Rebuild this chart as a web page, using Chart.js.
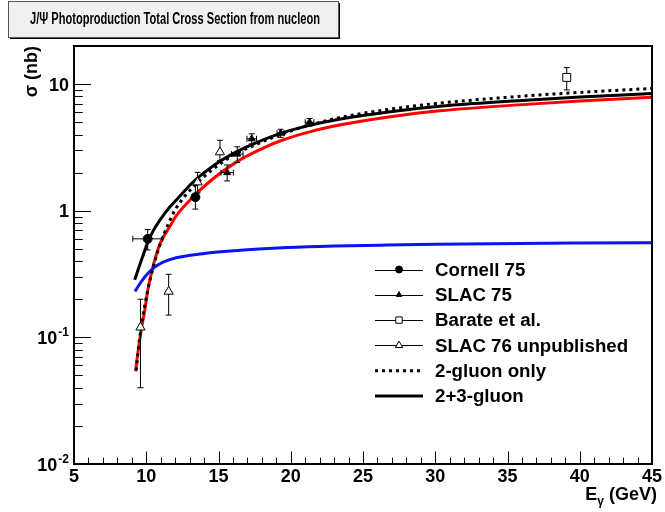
<!DOCTYPE html>
<html><head><meta charset="utf-8">
<style>html,body{margin:0;padding:0;background:#fff}canvas{display:block}</style>
<script src="https://cdn.jsdelivr.net/npm/chart.js@4"></script>
</head><body>
<canvas id="c" width="665" height="512"></canvas>
<script>
// ---------- text ----------
const titleText = 'J/\u03A8 Photoproduction Total Cross Section from nucleon';
const yTitle = '\u03C3 (nb)';
const xTitleMain = 'E';
const xTitleSub = '\u03B3';
const xTitleRest = ' (GeV)';

// ---------- ticks ----------
const xMajorTicks = [5, 10, 15, 20, 25, 30, 35, 40, 45];
const xTickLabels = ['5', '10', '15', '20', '25', '30', '35', '40', '45'];
const yMajorTicks = [0.01, 0.1, 1, 10];
const yTickBase = ['10', '10', '1', '10'];
const yTickExp = ['-2', '-1', '', ''];

// ---------- curves ----------
const twoThreeE = [9.2, 9.5, 9.8, 10.12, 10.5, 11.0, 11.6, 12.4, 13.22, 14.6, 16.2, 17.47, 19.3, 21.3, 23.45, 26.9, 30.3, 36.55, 40, 45];
const twoThreeS = [0.285, 0.36, 0.45, 0.57, 0.70, 0.86, 1.06, 1.33, 1.68, 2.25, 2.9, 3.39, 4.08, 4.72, 5.3, 6.06, 6.69, 7.5, 7.9, 8.43];

const twoOnlyE = [9.3, 9.55, 9.9, 10.23, 10.6, 10.92, 11.5, 12.07, 13.22, 14.6, 16.2, 17.5, 19.3, 21.3, 23.45, 26.9, 30.3, 36.5, 40, 45];
const twoOnlyS = [0.055, 0.10, 0.179, 0.274, 0.40, 0.526, 0.775, 1.05, 1.53, 2.12, 2.82, 3.3, 4.0, 4.75, 5.46, 6.35, 7.08, 8.1, 8.6, 9.25];

const redE = [9.26, 9.45, 9.66, 9.9, 10.12, 10.46, 10.9, 11.26, 11.7, 12.07, 13.22, 14.6, 16.2, 17.47, 19.3, 21.3, 23.45, 26.9, 30.3, 36.55, 40, 45];
const redS = [0.054, 0.080, 0.116, 0.165, 0.24, 0.36, 0.53, 0.64, 0.775, 0.91, 1.28, 1.78, 2.41, 2.89, 3.57, 4.2, 4.77, 5.52, 6.15, 6.95, 7.35, 7.87];

const blueE = [9.22, 9.6, 10.0, 10.5, 10.92, 12.07, 13.9, 15.17, 17, 19.77, 23, 26.67, 30, 35.86, 40, 45];
const blueS = [0.23, 0.27, 0.31, 0.352, 0.38, 0.425, 0.458, 0.474, 0.492, 0.512, 0.526, 0.536, 0.543, 0.552, 0.556, 0.56];

// ---------- data points ----------
const cornellE = [10.1, 13.4];
const cornellS = [0.60, 1.28];
const cornellUp = [0.11, 0.30];
const cornellDn = [0.11, 0.25];
const cornellXErr = [1.03, 0];

const slac75E = [15.6, 16.3, 17.3, 19.3, 21.3];
const slac75S = [2.0, 2.8, 3.7, 4.1, 5.0];
const slac75Up = [0.3, 0.4, 0.35, 0.3, 0.35];
const slac75Dn = [0.28, 0.4, 0.33, 0.3, 0.35];
const slac75XErr = [0.43, 0.4, 0.33, 0.25, 0.3];

const barateE = [39.1];
const barateS = [11.3];
const barateUp = [2.2];
const barateDn = [2.3];
const barateXErr = [0];

const slac76E = [9.6, 11.55, 13.55, 15.1];
const slac76S = [0.12, 0.23, 1.68, 2.9];
const slac76Up = [0.08, 0.085, 0.33, 0.7];
const slac76Dn = [0.08, 0.08, 0.3, 0.4];
const slac76XErr = [0, 0, 0, 0];

const legendLabels = ['Cornell 75', 'SLAC 75', 'Barate et al.', 'SLAC 76 unpublished', '2-gluon only', '2+3-gluon'];

// ---------- build ----------
const pts = (xs, ys) => xs.map((x, i) => ({x: x, y: ys[i]}));
const FONT = 'Liberation Sans, Arial, Helvetica, sans-serif';
const NARROW = '"Liberation Sans Narrow", "Arial Narrow", Liberation Sans, Arial, sans-serif';

const markerSets = [
  {label: legendLabels[0], data: pts(cornellE, cornellS), up: cornellUp, dn: cornellDn, xe: cornellXErr,
   pointStyle: 'circle', pointRadius: 4.5, pointBackgroundColor: '#000', pointBorderColor: '#000', pointBorderWidth: 1},
  {label: legendLabels[1], data: pts(slac75E, slac75S), up: slac75Up, dn: slac75Dn, xe: slac75XErr,
   pointStyle: 'triangle', pointRadius: 4, pointBackgroundColor: '#000', pointBorderColor: '#000', pointBorderWidth: 1},
  {label: legendLabels[2], data: pts(barateE, barateS), up: barateUp, dn: barateDn, xe: barateXErr,
   pointStyle: 'rect', pointRadius: 5.6, pointBackgroundColor: '#fff', pointBorderColor: '#000', pointBorderWidth: 1},
  {label: legendLabels[3], data: pts(slac76E, slac76S), up: slac76Up, dn: slac76Dn, xe: slac76XErr,
   pointStyle: 'triangle', pointRadius: 5.3, pointBackgroundColor: '#fff', pointBorderColor: '#000', pointBorderWidth: 1}
];
markerSets.forEach((d, i) => { d.type = 'line'; d.showLine = false; d.order = i; d.isMarker = true; });

const curveSets = [
  {label: legendLabels[4], data: pts(twoOnlyE, twoOnlyS), borderColor: '#000', borderWidth: 3, borderDash: [3, 4], order: 10},
  {label: legendLabels[5], data: pts(twoThreeE, twoThreeS), borderColor: '#000', borderWidth: 3, order: 11},
  {label: 'blue', data: pts(blueE, blueS), borderColor: '#0a14f0', borderWidth: 3, order: 12},
  {label: 'red', data: pts(redE, redS), borderColor: '#ff0000', borderWidth: 3, order: 13}
];
curveSets.forEach(d => { d.type = 'line'; d.pointRadius = 0; d.cubicInterpolationMode = 'monotone'; d.fill = false; });

function errBars(chart, ds) {
  const ctx = chart.ctx, xs = chart.scales.x, ys = chart.scales.y;
  ctx.save();
  ctx.strokeStyle = '#000'; ctx.lineWidth = 1;
  ds.data.forEach((p, i) => {
    const px = xs.getPixelForValue(p.x);
    const yTop = ys.getPixelForValue(p.y + ds.up[i]);
    const yBot = ys.getPixelForValue(p.y - ds.dn[i]);
    ctx.beginPath();
    ctx.moveTo(px, yTop); ctx.lineTo(px, yBot);
    ctx.moveTo(px - 3, yTop); ctx.lineTo(px + 3, yTop);
    ctx.moveTo(px - 3, yBot); ctx.lineTo(px + 3, yBot);
    if (ds.xe[i] > 0) {
      const py = ys.getPixelForValue(p.y);
      const xl = xs.getPixelForValue(p.x - ds.xe[i]);
      const xr = xs.getPixelForValue(p.x + ds.xe[i]);
      ctx.moveTo(xl, py); ctx.lineTo(xr, py);
      ctx.moveTo(xl, py - 3); ctx.lineTo(xl, py + 3);
      ctx.moveTo(xr, py - 3); ctx.lineTo(xr, py + 3);
    }
    ctx.stroke();
  });
  ctx.restore();
}

const rootPlugin = {
  id: 'rootStyle',
  beforeDatasetDraw(chart, args) {
    const ds = chart.data.datasets[args.index];
    if (ds.isMarker) errBars(chart, ds);
  },
  afterDraw(chart) {
    const ctx = chart.ctx, a = chart.chartArea, xs = chart.scales.x, ys = chart.scales.y;
    ctx.save();
    // frame
    ctx.strokeStyle = '#000'; ctx.lineWidth = 2;
    ctx.strokeRect(a.left, a.top, a.right - a.left, a.bottom - a.top);
    // x ticks
    ctx.lineWidth = 1;
    ctx.beginPath();
    for (let v = xs.min; v <= xs.max + 1e-9; v += 1) {
      const px = Math.round(xs.getPixelForValue(v)) + 0.5;
      const len = xMajorTicks.includes(v) ? 12.5 : 6.3;
      ctx.moveTo(px, a.bottom); ctx.lineTo(px, a.bottom - len);
    }
    // y ticks
    for (let k = -2; k <= 1; k++) {
      for (let m = 1; m <= 9; m++) {
        const v = m * Math.pow(10, k);
        if (v < ys.min || v > ys.max) continue;
        const py = Math.round(ys.getPixelForValue(v)) + 0.5;
        const len = m === 1 ? 17 : 8.7;
        ctx.moveTo(a.left, py); ctx.lineTo(a.left + len, py);
      }
    }
    ctx.stroke();
    // x tick labels
    ctx.fillStyle = '#000';
    ctx.font = 'bold 18px ' + FONT;
    ctx.textAlign = 'center'; ctx.textBaseline = 'alphabetic';
    xMajorTicks.forEach((v, i) => ctx.fillText(xTickLabels[i], xs.getPixelForValue(v), a.bottom + 18));
    // y tick labels
    yMajorTicks.forEach((v, i) => {
      const py = ys.getPixelForValue(v);
      const right = a.left - 5;
      ctx.textAlign = 'left';
      ctx.font = 'bold 12px ' + FONT;
      const we = yTickExp[i] ? ctx.measureText(yTickExp[i]).width : 0;
      ctx.font = 'bold 18px ' + FONT;
      const wb = ctx.measureText(yTickBase[i]).width;
      const x0 = right - we - wb - (we ? 1 : 0);
      ctx.fillText(yTickBase[i], x0, py + 6.5);
      if (yTickExp[i]) {
        ctx.font = 'bold 12px ' + FONT;
        ctx.fillText(yTickExp[i], x0 + wb + 1, py - 1);
      }
    });
    // x title
    ctx.font = 'bold 18px ' + FONT;
    const wRest = ctx.measureText(xTitleRest).width;
    const wE = ctx.measureText(xTitleMain).width;
    ctx.font = 'bold 12px ' + FONT;
    const wSub = ctx.measureText(xTitleSub).width;
    let xx = 657 - wRest - wSub - wE;
    ctx.font = 'bold 18px ' + FONT;
    ctx.fillText(xTitleMain, xx, 500);
    ctx.font = 'bold 12px ' + FONT;
    ctx.fillText(xTitleSub, xx + wE, 505);
    ctx.font = 'bold 18px ' + FONT;
    ctx.fillText(xTitleRest, xx + wE + wSub, 500);
    // y title
    ctx.save();
    ctx.translate(37, a.top);
    ctx.rotate(-Math.PI / 2);
    ctx.textAlign = 'right';
    ctx.fillText(yTitle, 0, 0);
    ctx.restore();
    // title box
    const bx = 8, by = 1, bw = 330, bh = 36;
    ctx.fillStyle = '#f0f0f0';
    ctx.fillRect(bx, by, bw, bh);
    ctx.fillStyle = '#000';
    ctx.fillRect(bx + 2, by + bh, bw, 2);
    ctx.fillRect(bx + bw, by + 2, 2, bh);
    ctx.strokeStyle = '#555'; ctx.lineWidth = 1;
    ctx.strokeRect(bx + 0.5, by + 0.5, bw, bh);
    ctx.font = 'bold 16px ' + NARROW;
    const tw = ctx.measureText(titleText).width;
    const targetW = 290;
    ctx.save();
    ctx.translate(bx + 22, by + bh / 2 + 1);
    ctx.scale(targetW / tw, 1);
    ctx.textAlign = 'left'; ctx.textBaseline = 'middle';
    ctx.fillText(titleText, 0, 0);
    ctx.restore();
    // legend
    const rowY0 = 269.5, rowDy = 25.3, lx0 = 375, lx1 = 423, tx = 435;
    const legendOrder = [markerSets[0], markerSets[1], markerSets[2], markerSets[3], curveSets[0], curveSets[1]];
    legendOrder.forEach((d, i) => {
      const y = rowY0 + i * rowDy;
      ctx.save();
      ctx.strokeStyle = '#000';
      if (d.isMarker) {
        ctx.lineWidth = 1; ctx.setLineDash([]);
        ctx.beginPath(); ctx.moveTo(lx0, Math.round(y) + 0.5); ctx.lineTo(lx1, Math.round(y) + 0.5); ctx.stroke();
        ctx.fillStyle = d.pointBackgroundColor;
        Chart.helpers.drawPoint(ctx, {pointStyle: d.pointStyle, radius: d.pointStyle === 'circle' ? 3.5 : d.pointRadius * 0.8, borderWidth: 1}, (lx0 + lx1) / 2, y);
      } else {
        ctx.lineWidth = d.borderWidth; ctx.setLineDash(d.borderDash || []);
        ctx.beginPath(); ctx.moveTo(lx0, y); ctx.lineTo(lx1, y); ctx.stroke();
      }
      ctx.restore();
      ctx.fillStyle = '#000';
      ctx.font = 'bold 18.7px ' + FONT;
      ctx.textAlign = 'left'; ctx.textBaseline = 'middle';
      ctx.fillText(d.label, tx, y + 1);
    });
    ctx.restore();
  }
};

new Chart(document.getElementById('c'), {
  type: 'line',
  data: {datasets: [...markerSets, ...curveSets]},
  options: {
    responsive: false, animation: false, devicePixelRatio: 1,
    layout: {padding: {left: 74, right: 13, top: 46, bottom: 48}},
    scales: {
      x: {type: 'linear', min: 5, max: 45, display: false},
      y: {type: 'logarithmic', min: 0.01, max: 20, display: false}
    },
    plugins: {legend: {display: false}, tooltip: {enabled: false}}
  },
  plugins: [rootPlugin]
});
</script>
</body></html>
